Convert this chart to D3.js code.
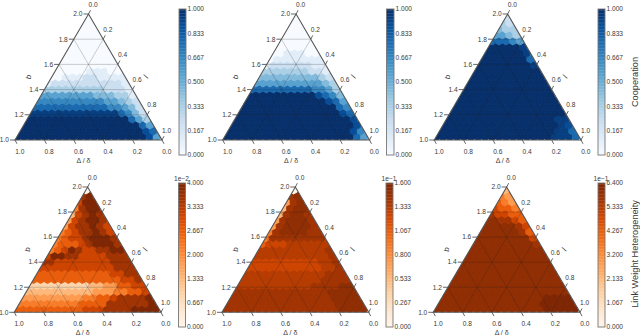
<!DOCTYPE html>
<html><head><meta charset="utf-8">
<script src="https://cdn.jsdelivr.net/npm/d3@7"></script>
<style>html,body{margin:0;padding:0;background:#fff}svg{display:block}text{font-family:"Liberation Sans",Arial,sans-serif;fill:#3a3a3a}</style>
</head><body><svg id="c" width="640" height="336"></svg>
<script>
// Cell levels 0-9 (x = 7.5, y = 8.5), one string per row of the hex lattice, bottom row first.
const coopA = ["999999999999999999985","99999999999999999987","9999999999999999975","999999999999999753","yyyyyyyyyyyyy7642","7777777777766542","666666666655432","55555555444331","3333333332221","122222222221","00111221111","0000011100","000000000","00000000","0000000","000000","00000","0000","000","00","0"];
const coopB = ["999999999999999999975","99999999999999999986","9999999999999999998","999999999999999998","99999999999999987","9999999999999976","999999999999875","99999999998764","7777777776653","555555555543","44444444432","3333333221","122222211","01111111","0011100","000000","00000","0000","000","00","0"];
const coopC = ["99999999999999999yyy7","99999999999999999yy7","99999999999999999y8","9999999999999999yy","99999999999999999","9999999999999999","999999999999999","99999999999999","9999999999999","999999999999","99999999999","9999999999","99999999y","99999997","999999y6","99999y","77765","5543","433","32","2"];
const hetA = ["666666666677788889999","55555555566668888889","4444444445566788889","333333333344455667","22222222233446677","6666666666666778","666666666667788","77777777777888","8877777777888","799887777888","56798778899","5666789998","567789998","56788987","4788987","478998","37898","5899","799","89","0"];
const hetB = ["88888888888888888yyyy","8888888888888888yyyy","888888888888888yyyy","88888888888888yyyy","xxxxxxxxxxx8888yy","xxxxxxxxxxxx8888","xxxxxxxxxxxx888","77777777777xx8","7777777777xx8","xxxxxxxxxxx8","xxxxxxxxxx8","6777xxxxxx","588888888","58yyyy88","48yyyy8","48yyy8","38yy8","38yy","48y","8y","0"];
const hetC = ["yyyyyyyyyyyyyyyy99999","yyyyyyyyyyyyyyy99999","yyyyyyyyyyyyyyy9999","yyyyyyyyyyyyyyyyyy","yyyyyyyyyyyyyyyyy","yyyyyyyyyyyyyyyy","yyyyyyyyyyyyyyy","yyyyyyyyyyyyyy","yyyyyyyyyyyyy","yyyyyyyyyyyy","yyyyyyyyyyy","yyyyyyyyy8","yyyyyyyy7","yyyyyy86","yyyyy87","yy8876","87766","7665","654","54","3"];

const bTicks = [1.0,1.2,1.4,1.6,1.8,2.0];
const lTicks = [0.0,0.2,0.4,0.6,0.8,1.0];
const dTicks = [1.0,0.8,0.6,0.4,0.2,0.0];

const coopBarLabels = ["0.000","0.167","0.333","0.500","0.667","0.833","1.000"];
const hetABarLabels = ["0.000","0.667","1.333","2.000","2.667","3.333","4.000"];
const hetBBarLabels = ["0.000","0.267","0.533","0.800","1.067","1.333","1.600"];
const hetCBarLabels = ["0.000","1.067","2.133","3.200","4.267","5.333","6.400"];

const blues = d3.schemeBlues[9];
const oranges = d3.schemeOranges[9];
const LEVELS = 9, ROWS = 21;
const level = ch => ch==="x" ? 7.5 : ch==="y" ? 8.5 : +ch;

const panels = [
 {rows:coopA, ramp:blues, bar:coopBarLabels, exp:"", l:15, r:162, top:14, base:140, bx:179, bw:7, by0:155, by1:9},
 {rows:coopB, ramp:blues, bar:coopBarLabels, exp:"", l:222.7, r:369.5, top:14, base:140, bx:386.5, bw:7.5, by0:155, by1:9},
 {rows:coopC, ramp:blues, bar:coopBarLabels, exp:"", l:434.3, r:581, top:14, base:140, bx:598, bw:7, by0:155, by1:9},
 {rows:hetA, ramp:oranges, bar:hetABarLabels, exp:"1e\u22122", l:14.3, r:161, top:187, base:312.3, bx:178.5, bw:7, by0:327, by1:183},
 {rows:hetB, ramp:oranges, bar:hetBBarLabels, exp:"1e\u22121", l:222, r:368.7, top:187, base:312.3, bx:386, bw:7, by0:327, by1:183},
 {rows:hetC, ramp:oranges, bar:hetCBarLabels, exp:"1e\u22121", l:433.3, r:580, top:187, base:312.3, bx:598, bw:7, by0:327, by1:183}
];

const svg = d3.select("#c");
const defs = svg.append("defs");
const fs = 6.6;

panels.forEach((p,i)=>{
  const g = svg.append("g");
  const color = d3.scaleLinear().domain(d3.range(9).map(k=>k/8)).range(p.ramp).interpolate(d3.interpolateRgb);
  const X = d3.scaleLinear().domain([0,1]).range([p.l,p.r]);
  const Y = d3.scaleLinear().domain([0,1]).range([p.base,p.top]);
  const pt = (u,h)=>[X(u+h/2),Y(h)];
  const tri = [pt(0,0),pt(1,0),pt(0,1)];
  const triPath = d3.line()(tri)+"Z";
  defs.append("clipPath").attr("id","t"+i).append("path").attr("d",triPath);

  const w = X(1/ROWS)-X(0), rad = w/Math.sqrt(3);
  const hex = d3.line()(d3.range(6).map(k=>{const a=Math.PI/3*k+Math.PI/6;return [rad*Math.cos(a),rad*Math.sin(a)];}))+"Z";
  const cells = p.rows.flatMap((s,r)=>Array.from(s).map((d,c)=>({r,c,v:level(d)/LEVELS})));
  g.append("g").attr("clip-path",`url(#t${i})`).selectAll("path").data(cells).join("path")
    .attr("d",hex)
    .attr("transform",d=>{const [x,y]=pt(d.c/ROWS,(d.r+.5)/ROWS);return `translate(${x},${y})`;})
    .attr("fill",d=>color(d.v)).attr("stroke",d=>color(d.v)).attr("stroke-width",.9);

  const fr=[.2,.4,.6,.8];
  const gridLines = fr.flatMap(f=>[[pt(0,f),pt(1-f,f)],[pt(f,0),pt(f,1-f)],[pt(f,0),pt(0,f)]]);
  g.append("g").selectAll("path").data(gridLines).join("path").attr("d",d=>d3.line()(d))
    .attr("stroke","#222").attr("stroke-opacity",.28).attr("stroke-width",.8).attr("fill","none");

  g.append("path").attr("d",triPath).attr("fill","none").attr("stroke","#555").attr("stroke-width",1.1);

  const bS = d3.scaleLinear().domain([1,2]).range([0,1]);
  const left = g.append("g");
  bTicks.forEach(b=>{
    const [x,y]=pt(0,bS(b));
    left.append("line").attr("x1",x).attr("x2",x-5).attr("y1",y).attr("y2",y).attr("stroke","#555").attr("stroke-width",.9);
    left.append("text").attr("x",x-6).attr("y",y+2.3).attr("text-anchor","end").attr("font-size",fs).text(b.toFixed(1));
  });
  const midL = pt(0,.5);
  g.append("text").attr("transform",`translate(${midL[0]-21},${midL[1]}) rotate(-90)`).attr("font-size",8).attr("font-style","italic").attr("text-anchor","middle").text("b");

  const lS = d3.scaleLinear().domain([0,1]).range([1,0]);
  lTicks.forEach(l=>{
    const h=lS(l), [x,y]=pt(1-h,h);
    g.append("line").attr("x1",x).attr("y1",y).attr("x2",x+2).attr("y2",y-3.8).attr("stroke","#555").attr("stroke-width",.9);
    g.append("text").attr("x",x+4.6).attr("y",y-7.5).attr("text-anchor","middle").attr("font-size",fs).text(l.toFixed(1));
  });
  const midR = pt(.5,.5);
  g.append("text").attr("transform",`translate(${midR[0]+23},${midR[1]+1}) rotate(-60)`).attr("font-size",8).attr("font-style","italic").attr("text-anchor","middle").text("l");

  const dS = d3.scaleLinear().domain([1,0]).range([0,1]);
  dTicks.forEach(d=>{
    const [x,y]=pt(dS(d),0);
    g.append("line").attr("x1",x).attr("y1",y).attr("x2",x+2).attr("y2",y+3.8).attr("stroke","#555").attr("stroke-width",.9);
    g.append("text").attr("x",x+4.8).attr("y",y+14).attr("text-anchor","middle").attr("font-size",fs).text(d.toFixed(1));
  });
  g.append("text").attr("x",(p.l+p.r)/2-5).attr("y",p.base+23).attr("text-anchor","middle").attr("font-size",7).text("\u0394 / \u03b4");

  const bar = d3.scaleLinear().domain([0,1]).range([p.by0,p.by1]);
  const steps = d3.range(0,1,1/100);
  g.append("g").selectAll("rect").data(steps).join("rect")
    .attr("x",p.bx).attr("width",p.bw).attr("y",d=>bar(d+.01)).attr("height",d=>bar(d)-bar(d+.01)+.3)
    .attr("fill",d=>color(d+.005));
  g.append("rect").attr("x",p.bx).attr("y",p.by1).attr("width",p.bw).attr("height",p.by0-p.by1).attr("fill","none").attr("stroke","#777").attr("stroke-width",.9);
  p.bar.forEach((t,k)=>{
    g.append("text").attr("x",p.bx+p.bw+1.5).attr("y",bar(k/6)+2.3).attr("font-size",fs).text(t);
  });
  if(p.exp) g.append("text").attr("x",p.bx+p.bw/2-.5).attr("y",p.by1-2.5).attr("text-anchor","middle").attr("font-size",fs).text(p.exp);
});

svg.append("text").attr("transform","translate(638,82) rotate(-90)").attr("text-anchor","middle").attr("font-size",9.2).text("Cooperation");
svg.append("text").attr("transform","translate(638,254) rotate(-90)").attr("text-anchor","middle").attr("font-size",9.2).text("Link Weight Heterogeneity");
</script></body></html>
